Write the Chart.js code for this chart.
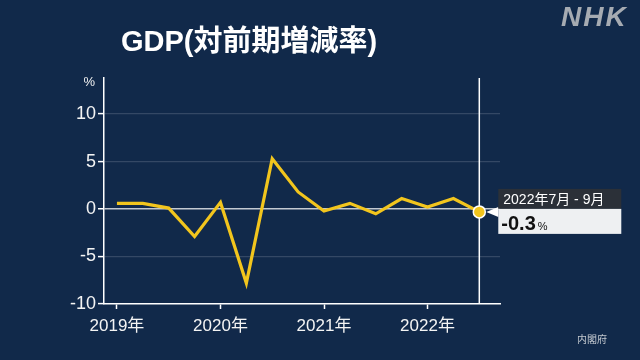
<!DOCTYPE html>
<html lang="ja">
<head>
<meta charset="utf-8">
<script src="https://cdn.jsdelivr.net/npm/chart.js@4"></script>
<style>
  body { margin: 0; background: #11294a; }
  #wrap { position: relative; width: 640px; height: 360px; overflow: hidden; }
  .title { position: absolute; left: 121px; top: 17px; font: bold 29px "Liberation Sans", "Noto Sans CJK JP"; color: #fff; }
  .logo { position: absolute; left: 561px; top: 1px; font: italic bold 28px "Liberation Sans"; color: #a6abb2; letter-spacing: 2px; }
  .src { position: absolute; left: 577px; top: 331px; font: 10px "Noto Sans CJK JP"; color: #c3c8cf; }
</style>
</head>
<body>
<div id="wrap">
  <canvas id="gdp" width="640" height="360"></canvas>
  <div class="title">GDP(対前期増減率)</div>
  <div class="logo">NHK</div>
  <div class="src">内閣府</div>
</div>
<script>
/////////////////////////////////////////////////////////////
// DATA

const quarters = [
  "2019年1-3月", "2019年4-6月", "2019年7-9月", "2019年10-12月",
  "2020年1-3月", "2020年4-6月", "2020年7-9月", "2020年10-12月",
  "2021年1-3月", "2021年4-6月", "2021年7-9月", "2021年10-12月",
  "2022年1-3月", "2022年4-6月", "2022年7-9月",
];
const gdpChange = [0.6, 0.6, 0.1, -2.9, 0.7, -7.8, 5.3, 1.8, -0.2, 0.6, -0.5, 1.1, 0.2, 1.1, -0.3];
const yTicks = [-10, -5, 0, 5, 10];
const lastLabel = "2022年7月 - 9月";

/////////////////////////////////////////////////////////////
// SET UP CHART

const yearTicks = quarters
  .map((q, i) => (q.endsWith("年1-3月") ? i : null))
  .filter((i) => i !== null);

// vertical line + callout on the latest quarter
const lastPointNote = {
  id: "lastPointNote",
  beforeDatasetsDraw(chart) {
    const { ctx, chartArea } = chart;
    const pt = chart.getDatasetMeta(0).data[gdpChange.length - 1];
    ctx.save();
    ctx.strokeStyle = "#ffffff";
    ctx.lineWidth = 1.5;
    ctx.beginPath();
    ctx.moveTo(pt.x, chartArea.top);
    ctx.lineTo(pt.x, chartArea.bottom);
    ctx.stroke();

    // unit label
    ctx.fillStyle = "#f0f0f0";
    ctx.font = "13px 'Liberation Sans'";
    ctx.textAlign = "right";
    ctx.textBaseline = "middle";
    ctx.fillText("%", chartArea.left - 9, chartArea.top + 4);
    ctx.restore();
  },
  afterDatasetsDraw(chart) {
    const { ctx } = chart;
    const pt = chart.getDatasetMeta(0).data[gdpChange.length - 1];
    const bx = pt.x + 19;
    const by = pt.y - 23;
    ctx.save();
    // pointer
    ctx.fillStyle = "#ffffff";
    ctx.beginPath();
    ctx.moveTo(pt.x + 7, pt.y);
    ctx.lineTo(bx, pt.y - 5);
    ctx.lineTo(bx, pt.y + 5);
    ctx.closePath();
    ctx.fill();
    // header
    ctx.fillStyle = "#2b3038";
    ctx.fillRect(bx, by, 123, 20);
    ctx.fillStyle = "#ffffff";
    ctx.font = "14px 'Liberation Sans', 'Noto Sans CJK JP'";
    ctx.textBaseline = "middle";
    ctx.fillText(lastLabel, bx + 5, by + 11);
    // value
    ctx.fillStyle = "#eef0f2";
    ctx.fillRect(bx, by + 20, 123, 25);
    ctx.fillStyle = "#111111";
    ctx.font = "bold 20px 'Liberation Sans'";
    ctx.textBaseline = "alphabetic";
    const v = gdpChange[gdpChange.length - 1].toFixed(1);
    ctx.fillText(v, bx + 3, by + 41);
    const w = ctx.measureText(v).width;
    ctx.font = "11px 'Liberation Sans'";
    ctx.fillText("%", bx + 5 + w, by + 41);
    ctx.restore();
  },
};

const gdp_data = {
  datasets: [
    {
      data: gdpChange.map((v, i) => ({ x: i, y: v })),
      borderColor: "#f2c51d",
      borderWidth: 3.2,
      tension: 0,
      pointRadius: (c) => (c.dataIndex === gdpChange.length - 1 ? 6 : 0),
      pointBackgroundColor: "#f2c51d",
      pointBorderColor: "#ffffff",
      pointBorderWidth: 1.5,
    },
  ],
};

const gdp_config = {
  type: "line",
  data: gdp_data,
  options: {
    responsive: false,
    animation: false,
    layout: { padding: { top: 78, right: 140, left: 0, bottom: 0 } },
    scales: {
      x: {
        type: "linear",
        min: -0.5,
        max: 14.8,
        afterBuildTicks: (scale) => {
          scale.ticks = yearTicks.map((i) => ({ value: i }));
        },
        afterFit: (scale) => {
          scale.height = 56;
        },
        border: { color: "#ffffff", width: 1.5 },
        grid: { drawOnChartArea: false, tickLength: 5, tickColor: "#ffffff", tickWidth: 1.5 },
        ticks: {
          color: "#f4f4f4",
          padding: 7,
          font: { family: "'Liberation Sans', 'Noto Sans CJK JP'", size: 17 },
          maxRotation: 0,
          callback: (v) => quarters[v].split("年")[0] + "年",
        },
      },
      y: {
        min: -10,
        max: 13.8,
        afterBuildTicks: (scale) => {
          scale.ticks = yTicks.map((v) => ({ value: v }));
        },
        afterFit: (scale) => {
          scale.width = 104;
        },
        border: { color: "#ffffff", width: 1.5 },
        grid: {
          color: (c) =>
            c.tick.value === 0
              ? "rgba(255,255,255,0.75)"
              : c.tick.value === -10
              ? "rgba(0,0,0,0)"
              : "rgba(255,255,255,0.15)",
          lineWidth: (c) => (c.tick.value === 0 ? 1.5 : 1.2),
          tickLength: 6,
          tickColor: "#ffffff",
          tickWidth: 1.5,
        },
        ticks: {
          color: "#f4f4f4",
          padding: 2,
          font: { family: "'Liberation Sans'", size: 18 },
        },
      },
    },
    plugins: {
      legend: { display: false },
      tooltip: { enabled: false },
    },
  },
  plugins: [lastPointNote],
};

// render chart
const gdp_ctx = document.querySelector("#gdp").getContext("2d");
const gdpChart = new Chart(gdp_ctx, gdp_config);
</script>
</body>
</html>
